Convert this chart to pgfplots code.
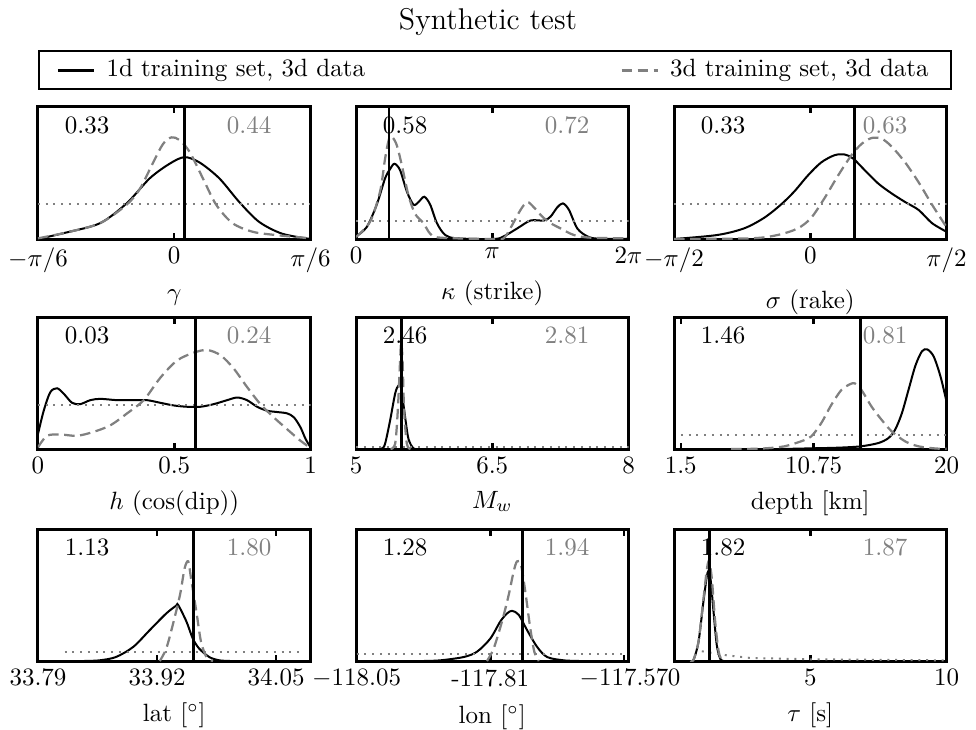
\documentclass[border=0pt]{standalone}
\usepackage{pgfplots}
\pgfplotsset{compat=1.18}
\definecolor{mgray}{gray}{0.5}
\pgfplotsset{
  panel/.style={
    scale only axis, width=109.0pt, height=52.8pt, anchor=south west,
    ymin=0, ymax=1, ytick=\empty,
    axis line style={line width=1.2pt},
    every tick/.style={black, line width=1pt},
    major tick length=2.6pt, tick align=inside, xtick pos=both,
    tick label style={font=\normalsize},
    xlabel style={font=\normalsize},
    clip=true,
  },
  sol/.style={black, line width=0.8pt, smooth},
  das/.style={mgray, line width=0.9pt, smooth, dash pattern=on 4.2pt off 2.2pt},
  dot/.style={mgray, line width=0.8pt, dash pattern=on 0.8pt off 2.3pt},
  tru/.style={black, line width=1.1pt},
}
\newcommand{\nums}[2]{%
  \node[black] at (rel axis cs:0.18,0.86) {#1};
  \node[mgray] at (rel axis cs:0.775,0.86) {#2};}
\begin{document}
\begin{tikzpicture}
\path[use as bounding box] (0,0) rectangle (390.4pt,-291.6pt);
\node[font=\large] at (195.2pt,-8.8pt) {Synthetic test};

% ---------- Row 1 ----------
\begin{axis}[panel, at={(15.2pt,-95.6pt)},
  xmin=-0.5236, xmax=0.5236, xtick={-0.5236,0,0.5236},
  xticklabels={$-\pi/6$,$0$,$\pi/6$}, xlabel={$\gamma$},
  legend image code/.code={\draw[#1, line width=1.2pt] (0pt,0pt) -- (14.4pt,0pt);},
  legend style={at={(0,1.125)}, anchor=south west, draw=black, line width=0.8pt,
    legend columns=2, font=\normalsize, inner xsep=7pt, inner ysep=1.5pt,
    /tikz/every odd column/.append style={column sep=2.4pt},
    /tikz/every even column/.append style={column sep=100pt}},
  legend cell align=left]
\addplot[sol] coordinates {(-0.5236,0) (-0.413,0.05) (-0.285,0.12) (-0.183,0.27) (-0.094,0.46) (-0.018,0.57) (0.039,0.62) (0.097,0.58) (0.173,0.46) (0.250,0.28) (0.326,0.13) (0.415,0.04) (0.5236,0)};
\addlegendentry{1d training set, 3d data}
\addplot[das] coordinates {(-0.5236,0.005) (-0.413,0.05) (-0.285,0.12) (-0.183,0.26) (-0.132,0.38) (-0.081,0.58) (-0.043,0.72) (-0.011,0.77) (0.020,0.75) (0.059,0.66) (0.110,0.46) (0.161,0.26) (0.224,0.12) (0.301,0.055) (0.390,0.03) (0.5236,0.005)};
\addlegendentry{3d training set, 3d data}
\addplot[dot] coordinates {(-0.5236,0.267) (0.5236,0.267)};
\addplot[tru] coordinates {(0.039,0) (0.039,1)};
\nums{0.33}{0.44}
\end{axis}

\begin{axis}[panel, at={(142.4pt,-95.6pt)},
  xmin=0, xmax=6.2832, xtick={0,3.1416,6.2832},
  xticklabels={$0$,$\pi$,$2\pi$}, xlabel={$\kappa$ (strike)}]
\addplot[sol] coordinates {(0,0.02) (0.247,0.09) (0.478,0.26) (0.671,0.46) (0.786,0.53) (0.887,0.57) (1.018,0.52) (1.172,0.36) (1.326,0.26) (1.442,0.28) (1.573,0.32) (1.711,0.26) (1.866,0.12) (2.058,0.03) (2.328,0.005) (3.176,0) (3.407,0.02) (3.716,0.08) (4.024,0.14) (4.332,0.14) (4.487,0.17) (4.641,0.24) (4.772,0.27) (4.911,0.22) (5.103,0.08) (5.335,0.02) (5.566,0.003) (6.283,0.002)};
\addplot[das] coordinates {(0,0.015) (0.324,0.13) (0.555,0.36) (0.671,0.61) (0.763,0.76) (0.840,0.77) (0.941,0.71) (1.056,0.56) (1.210,0.33) (1.364,0.19) (1.557,0.12) (1.711,0.04) (1.943,0.01) (3.176,0) (3.407,0.005) (3.600,0.105) (3.793,0.22) (3.947,0.28) (4.101,0.24) (4.294,0.17) (4.487,0.12) (4.718,0.08) (5.026,0.03) (5.412,0.01) (6.283,0.005)};
\addplot[dot] coordinates {(0,0.136) (6.2832,0.136)};
\addplot[tru] coordinates {(0.763,0) (0.763,1)};
\nums{0.58}{0.72}
\end{axis}

\begin{axis}[panel, at={(269.6pt,-95.6pt)},
  xmin=-1.5708, xmax=1.5708, xtick={-1.5708,0,1.5708},
  xticklabels={$-\pi/2$,$0$,$\pi/2$}, xlabel={$\sigma$ (rake)}]
\addplot[sol] coordinates {(-1.5708,0) (-1.075,0.03) (-0.765,0.08) (-0.533,0.16) (-0.339,0.26) (-0.184,0.36) (-0.029,0.48) (0.126,0.58) (0.281,0.635) (0.397,0.64) (0.494,0.61) (0.630,0.52) (0.784,0.42) (0.939,0.345) (1.094,0.28) (1.249,0.22) (1.404,0.12) (1.5708,0.055)};
\addplot[das] coordinates {(-1.5708,0) (-0.688,0.005) (-0.378,0.03) (-0.145,0.08) (0.010,0.16) (0.165,0.31) (0.320,0.48) (0.475,0.635) (0.591,0.72) (0.707,0.765) (0.823,0.76) (0.939,0.70) (1.094,0.58) (1.249,0.43) (1.404,0.26) (1.5708,0.09)};
\addplot[dot] coordinates {(-1.5708,0.267) (1.5708,0.267)};
\addplot[tru] coordinates {(0.513,0) (0.513,1)};
\nums{0.33}{0.63}
\end{axis}

% ---------- Row 2 ----------
\begin{axis}[panel, at={(15.2pt,-179.6pt)},
  xmin=0, xmax=1, xtick={0,0.5,1},
  xticklabels={$0$,$0.5$,$1$}, xlabel={$h$ (cos(dip))}]
\addplot[sol] coordinates {(0,0.114) (0.021,0.29) (0.045,0.43) (0.070,0.46) (0.094,0.42) (0.125,0.35) (0.155,0.34) (0.192,0.37) (0.229,0.38) (0.290,0.37) (0.351,0.37) (0.400,0.37) (0.449,0.35) (0.498,0.33) (0.547,0.32) (0.596,0.32) (0.645,0.34) (0.694,0.37) (0.731,0.39) (0.767,0.37) (0.804,0.32) (0.841,0.29) (0.878,0.28) (0.914,0.27) (0.939,0.24) (0.963,0.165) (0.982,0.076) (1,0.013)};
\addplot[das] coordinates {(0,0.013) (0.033,0.10) (0.082,0.11) (0.143,0.10) (0.204,0.13) (0.266,0.18) (0.327,0.27) (0.388,0.37) (0.449,0.54) (0.510,0.67) (0.572,0.73) (0.621,0.75) (0.670,0.71) (0.718,0.61) (0.767,0.47) (0.816,0.34) (0.865,0.24) (0.914,0.15) (0.963,0.063) (1,0.008)};
\addplot[dot] coordinates {(0,0.337) (1,0.337)};
\addplot[tru] coordinates {(0.578,0) (0.578,1)};
\nums{0.03}{0.24}
\end{axis}

\begin{axis}[panel, at={(142.4pt,-179.6pt)},
  xmin=5, xmax=8, xtick={5,6.5,8},
  xticklabels={$5$,$6.5$,$8$}, xlabel={$M_w$}]
\addplot[sol] coordinates {(5.20,0) (5.283,0.003) (5.320,0.04) (5.375,0.215) (5.431,0.42) (5.467,0.48) (5.497,0.46) (5.541,0.24) (5.578,0.076) (5.633,0.005) (5.70,0)};
\addplot[das] coordinates {(5.38,0) (5.431,0.04) (5.460,0.29) (5.486,0.68) (5.497,0.81) (5.512,0.68) (5.530,0.29) (5.560,0.04) (5.60,0)};
\addplot[dot] coordinates {(5,0.013) (8,0.013)};
\addplot[tru] coordinates {(5.497,0) (5.497,1)};
\nums{2.46}{2.81}
\end{axis}

\begin{axis}[panel, at={(269.6pt,-179.6pt)},
  xmin=1.03, xmax=20, xtick={1.5,10.75,20},
  xticklabels={$1.5$,$10.75$,$20$}, xlabel={depth [km]}]
\addplot[sol] coordinates {(8.5,0) (10.58,0.005) (12.45,0.01) (14.01,0.02) (15.25,0.045) (15.96,0.083) (16.42,0.146) (16.89,0.27) (17.36,0.45) (17.83,0.63) (18.29,0.74) (18.67,0.754) (19.11,0.70) (19.58,0.55) (20.0,0.36)};
\addplot[das] coordinates {(5.0,0) (6.37,0.001) (7.53,0.006) (8.70,0.02) (9.87,0.058) (10.58,0.095) (11.28,0.196) (11.98,0.334) (12.68,0.447) (13.27,0.49) (13.62,0.497) (14.08,0.447) (14.79,0.32) (15.49,0.22) (16.19,0.133) (17.12,0.058) (18.06,0.02) (19.23,0.004) (20,0.001)};
\addplot[dot] coordinates {(1.5,0.106) (20,0.106)};
\addplot[tru] coordinates {(14.01,0) (14.01,1)};
\nums{1.46}{0.81}
\end{axis}

% ---------- Row 3 ----------
\begin{axis}[panel, at={(15.2pt,-264.4pt)},
  xmin=33.79, xmax=34.0875, xtick={33.79,33.92,34.05},
  xticklabels={$33.79$,$33.92$,$34.05$}, xlabel={lat [$^\circ$]}]
\addplot[sol] coordinates {(33.84,0) (33.857,0.005) (33.875,0.03) (33.894,0.107) (33.912,0.234) (33.930,0.36) (33.941,0.42) (33.943,0.425) (33.952,0.30) (33.959,0.17) (33.966,0.094) (33.977,0.03) (33.988,0.005) (34.0,0)};
\addplot[das] coordinates {(33.923,0) (33.930,0.094) (33.937,0.27) (33.945,0.50) (33.950,0.70) (33.954,0.755) (33.957,0.63) (33.963,0.37) (33.968,0.145) (33.974,0.03) (33.981,0)};
\addplot[dot] coordinates {(33.819,0.069) (34.079,0.069)};
\addplot[tru] coordinates {(33.960,0) (33.960,1)};
\nums{1.13}{1.80}
\end{axis}

\begin{axis}[panel, at={(142.4pt,-264.4pt)},
  xmin=-118.051, xmax=-117.562, xtick={-118.05,-117.81,-117.57},
  xticklabels={$-118.05$,-117.81,$-117.57$}, xlabel={lon [$^\circ$]}]
\addplot[sol] coordinates {(-117.93,0) (-117.90,0.005) (-117.858,0.03) (-117.834,0.07) (-117.810,0.17) (-117.792,0.30) (-117.780,0.36) (-117.771,0.38) (-117.759,0.35) (-117.744,0.234) (-117.726,0.107) (-117.708,0.03) (-117.678,0.005) (-117.65,0)};
\addplot[das] coordinates {(-117.816,0) (-117.804,0.094) (-117.789,0.30) (-117.777,0.50) (-117.768,0.68) (-117.762,0.755) (-117.755,0.73) (-117.747,0.52) (-117.739,0.27) (-117.731,0.07) (-117.723,0)};
\addplot[dot] coordinates {(-118.05,0.05) (-117.57,0.05)};
\addplot[tru] coordinates {(-117.752,0) (-117.752,1)};
\nums{1.28}{1.94}
\end{axis}

\begin{axis}[panel, at={(269.6pt,-264.4pt)},
  xmin=0, xmax=10, xtick={0,5,10},
  xticklabels={$0$,$5$,$10$}, xlabel={$\tau$ [s]}]
\addplot[sol] coordinates {(0.60,0) (0.71,0.005) (0.90,0.146) (1.08,0.45) (1.23,0.667) (1.33,0.64) (1.45,0.375) (1.57,0.12) (1.70,0.015) (1.82,0)};
\addplot[das] coordinates {(0.60,0) (0.71,0.005) (0.90,0.15) (1.08,0.47) (1.21,0.70) (1.29,0.755) (1.39,0.62) (1.51,0.30) (1.64,0.07) (1.76,0.01) (1.85,0)};
\addplot[dot] coordinates {(1.02,0.074) (1.94,0.043) (2.80,0.023) (5.02,0.013) (10,0.005)};
\addplot[tru] coordinates {(1.29,0) (1.29,1)};
\nums{1.82}{1.87}
\end{axis}
\end{tikzpicture}
\end{document}
